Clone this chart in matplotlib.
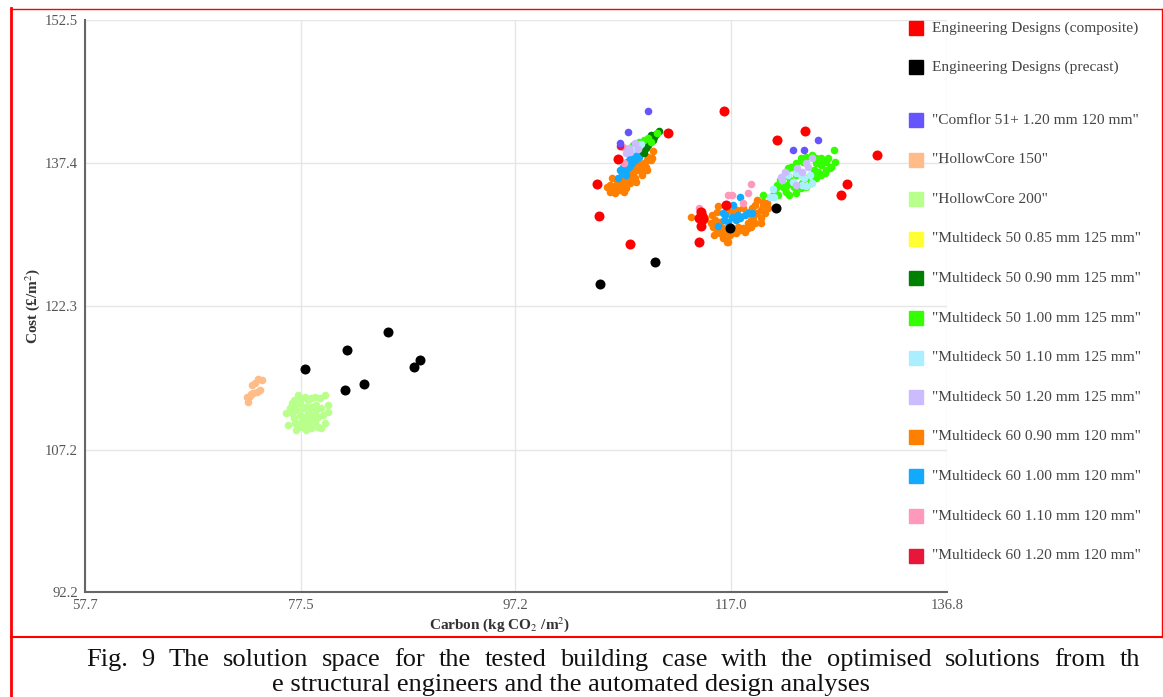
import matplotlib
matplotlib.use("Agg")
import matplotlib.pyplot as plt
from matplotlib.lines import Line2D
from matplotlib.patches import Rectangle

plt.rcParams["font.family"] = ["Liberation Serif", "DejaVu Serif"]
plt.rcParams["mathtext.fontset"] = "stix"

# axis ticks
x_ticks = [57.7, 77.5, 97.2, 117.0, 136.8]
y_ticks = [92.2, 107.2, 122.3, 137.4, 152.5]

# (carbon, cost)
eng_composite = [(104.7, 135.2), (104.9, 131.8), (106.6, 137.85), (107.7, 128.9), (111.2, 140.6),
                 (116.3, 142.9), (123.8, 140.8), (121.2, 139.85), (130.4, 138.3), (127.6, 135.2),
                 (127.1, 134.05), (116.5, 133.0), (114.2, 132.3), (114.3, 131.8), (114.0, 131.6),
                 (114.45, 131.5), (114.2, 130.8), (114.0, 129.1)]
eng_precast = [(77.9, 115.7), (81.7, 117.7), (85.5, 119.6), (81.6, 113.5), (83.3, 114.1),
               (87.9, 115.9), (88.4, 116.7), (105.0, 124.7), (110.0, 127.0), (116.9, 130.6),
               (121.1, 132.7)]
comflor = [(109.4, 142.9), (107.5, 140.7), (106.8, 139.5), (125.0, 139.85), (122.7, 138.8),
           (123.7, 138.8)]
hollowcore_150 = [(73.6, 114.65), (73.3, 114.2), (73.0, 114.0), (73.8, 113.5), (73.5, 113.3),
                  (73.15, 113.2), (72.8, 112.9), (72.6, 112.8), (72.7, 112.2), (72.9, 113.1),
                  (73.95, 114.55)]
hollowcore_200 = [(76.85, 112.4), (76.7, 112.1), (77.0, 111.9), (76.5, 111.6), (77.1, 111.4),
                  (77.45, 112.1), (77.5, 112.65), (77.25, 113.0), (77.9, 112.8), (78.2, 112.4),
                  (78.45, 112.65), (78.8, 112.8), (79.3, 112.65), (79.75, 113.0), (80.0, 111.9),
                  (79.4, 111.6), (78.9, 111.9), (78.45, 111.7), (78.2, 111.2), (77.9, 110.65),
                  (77.5, 110.1), (77.25, 109.6), (77.1, 109.3), (77.7, 109.6), (78.2, 110.0),
                  (78.45, 109.5), (78.8, 110.1), (79.1, 109.6), (79.4, 109.5), (79.75, 110.0),
                  (76.3, 109.8), (76.1, 111.1), (76.85, 110.5), (77.45, 110.9), (78.0, 111.7),
                  (78.6, 110.9), (79.1, 110.65), (79.5, 110.9), (80.0, 111.2), (78.9, 111.4),
                  (77.7, 111.6), (78.4, 110.5), (78.0, 109.3), (77.0, 110.0), (76.7, 111.1)]
md50_085 = []
md50_090 = [(110.1, 140.5), (109.6, 140.4), (109.8, 139.85), (109.3, 139.5), (109.2, 139.0),
            (109.4, 139.3), (109.0, 138.5), (109.9, 140.2), (108.9, 138.6), (110.35, 140.8)]
md50_100 = [(110.2, 140.6), (109.4, 140.1), (108.5, 139.6), (108.0, 139.3), (109.0, 139.85),
            (107.9, 139.1), (109.6, 139.6),
            (126.4, 138.8), (125.9, 138.0), (126.55, 137.5), (126.1, 136.9), (125.6, 136.4),
            (125.2, 137.2), (124.8, 138.0), (124.4, 138.3), (123.9, 138.1), (123.6, 137.5),
            (123.4, 138.0), (122.9, 137.4), (122.5, 137.0), (122.2, 136.9), (122.05, 136.4),
            (121.75, 136.0), (121.5, 135.6), (121.1, 134.8), (121.3, 134.05), (122.05, 134.4),
            (122.3, 134.05), (122.9, 134.3), (123.4, 134.8), (123.9, 134.9), (124.3, 135.3),
            (124.8, 135.8), (125.25, 136.2), (125.7, 136.7), (126.2, 137.0), (124.6, 136.7),
            (125.0, 136.5), (124.8, 137.4), (125.25, 138.0), (125.7, 137.5), (124.4, 136.2),
            (123.9, 135.8), (123.5, 135.3), (122.8, 134.9), (122.1, 135.1), (121.75, 134.9),
            (122.4, 135.6), (122.9, 136.2),
            (119.95, 134.05), (120.8, 134.05), (121.2, 135.1)]
md50_110 = [(108.7, 139.4), (108.0, 138.9), (120.8, 134.7), (120.6, 133.8), (120.9, 133.8),
            (122.9, 136.4), (123.4, 136.2), (123.7, 135.8), (124.2, 136.2), (124.4, 135.3),
            (123.5, 135.1), (123.9, 135.0), (122.7, 135.4), (122.2, 136.2)]
md50_120 = [(108.2, 139.5), (107.75, 138.6), (107.6, 139.0), (108.4, 138.9), (107.3, 138.5),
            (124.4, 138.0), (123.9, 137.4), (124.0, 137.0), (121.9, 136.5), (121.6, 136.0),
            (121.7, 135.6), (122.9, 135.1), (123.5, 136.5), (123.0, 136.9)]
md60_090 = [(106.2, 134.6), (106.4, 135.1), (106.1, 135.8), (106.65, 134.9), (106.8, 135.4),
            (107.1, 135.1), (107.45, 135.6), (107.75, 136.0), (108.0, 136.4), (108.4, 136.7),
            (108.7, 137.0), (109.0, 137.4), (109.3, 137.75), (109.4, 138.1), (108.9, 136.7),
            (108.2, 135.8), (107.75, 135.3), (107.3, 134.8), (106.8, 134.6), (108.5, 137.4),
            (107.9, 136.7), (107.6, 136.4), (107.1, 136.0), (106.5, 135.6), (109.6, 137.75),
            (109.2, 137.0), (108.0, 137.0), (107.0, 135.6), (105.9, 135.1), (109.8, 138.7),
            (105.9, 134.4), (105.6, 134.9), (106.3, 134.3), (107.2, 134.4), (108.3, 135.4),
            (108.8, 136.2), (109.3, 136.7), (109.7, 138.0),
            (113.3, 131.7), (115.8, 132.9), (115.7, 132.3), (116.0, 131.2), (115.8, 130.7),
            (115.7, 130.4), (116.0, 130.0), (116.2, 129.5), (116.6, 129.1), (117.65, 130.7),
            (118.1, 130.6), (118.5, 131.1), (118.8, 131.4), (119.0, 131.7), (119.4, 132.2),
            (119.7, 132.5), (119.95, 132.8), (120.3, 133.2), (119.2, 133.0), (118.9, 132.7),
            (118.6, 132.3), (118.05, 132.7), (119.4, 133.5), (119.9, 133.3), (120.4, 132.7),
            (120.1, 132.2), (119.7, 131.6), (119.2, 131.1), (118.8, 130.7), (118.3, 130.2),
            (117.8, 130.4), (117.4, 130.0), (116.9, 129.8), (116.45, 130.2), (116.2, 130.6),
            (115.5, 131.4), (115.3, 130.7), (115.1, 131.1), (117.1, 132.3), (116.6, 132.5),
            (117.5, 132.5), (116.7, 129.1), (115.2, 131.9), (114.6, 131.6),
            (115.4, 129.8), (116.6, 129.3), (118.5, 130.6), (119.95, 133.0), (119.7, 131.1)]
md60_100 = [(106.65, 135.8), (107.0, 136.4), (107.3, 136.7), (107.6, 137.0), (107.9, 137.4),
            (108.2, 137.75), (108.5, 138.1), (108.7, 138.5), (107.45, 137.5), (107.1, 137.0),
            (107.75, 138.0), (108.0, 138.3), (106.8, 136.7), (108.4, 138.6), (107.3, 136.2),
            (117.8, 133.8), (117.2, 133.0), (116.2, 132.2), (116.45, 131.9), (116.7, 131.2),
            (117.4, 131.4), (117.8, 131.6), (118.3, 131.9), (118.5, 132.2), (117.6, 131.9),
            (117.1, 131.7), (116.3, 131.4), (118.9, 132.2), (115.8, 130.8)]
md60_110 = [(107.1, 139.1), (107.2, 137.4), (109.0, 139.5), (114.0, 132.7), (116.7, 134.05),
            (117.1, 134.05), (118.8, 135.2), (118.5, 134.3), (118.1, 133.2)]
md60_120 = [(106.8, 139.2), (114.1, 132.4)]

labels = ["Engineering Designs (composite)", "Engineering Designs (precast)",
          '"Comflor 51+ 1.20 mm 120 mm"', '"HollowCore 150"', '"HollowCore 200"',
          '"Multideck 50 0.85 mm 125 mm"', '"Multideck 50 0.90 mm 125 mm"',
          '"Multideck 50 1.00 mm 125 mm"', '"Multideck 50 1.10 mm 125 mm"',
          '"Multideck 50 1.20 mm 125 mm"', '"Multideck 60 0.90 mm 120 mm"',
          '"Multideck 60 1.00 mm 120 mm"', '"Multideck 60 1.10 mm 120 mm"',
          '"Multideck 60 1.20 mm 120 mm"']
colors = ["#ff0000", "#000000", "#6655ff", "#ffbb88", "#b8ff8c", "#ffff33", "#008000",
          "#33ff00", "#aaeeff", "#ccbbff", "#ff7f00", "#11aaff", "#ff99bb", "#e8173a"]
series = [eng_composite, eng_precast, comflor, hollowcore_150, hollowcore_200, md50_085,
          md50_090, md50_100, md50_110, md50_120, md60_090, md60_100, md60_110, md60_120]

W, H = 1163, 697


def fx(px):
    return px / W


def fy(py):
    return 1 - py / H


fig = plt.figure(figsize=(W / 100, H / 100), dpi=100)
ax = fig.add_axes([fx(85), fy(592), (947 - 85) / W, (592 - 20) / H])

# draw order: small solution dots first, engineer designs on top
order = [3, 4, 10, 11, 12, 13, 6, 7, 8, 9, 5, 2, 0, 1]
for i in order:
    pts = series[i]
    if not pts:
        continue
    xs = [p[0] for p in pts]
    ys = [p[1] for p in pts]
    size = 52 if i < 2 else 30
    ax.scatter(xs, ys, s=size, color=colors[i], linewidths=0, zorder=3)

ax.set_xlim(x_ticks[0], x_ticks[-1])
ax.set_ylim(y_ticks[0], y_ticks[-1])
ax.set_xticks(x_ticks)
ax.set_xticklabels([f"{v:.1f}" for v in x_ticks])
ax.set_yticks(y_ticks)
ax.set_yticklabels([f"{v:.1f}" for v in y_ticks])
ax.grid(color="#e6e6e6", lw=1, zorder=0)
ax.tick_params(length=0, labelsize=10.5, labelcolor="#555555", pad=5)
for s in ["top", "right"]:
    ax.spines[s].set_visible(False)
for s in ["left", "bottom"]:
    ax.spines[s].set_color("#666666")
    ax.spines[s].set_linewidth(1.5)

fig.text(fx(33), fy(306), "Cost (£/m$^2$)", rotation=90, ha="center", va="center",
         fontsize=11, fontweight="bold", color="#333333")
fig.text(fx(500), fy(625), "Carbon (kg CO$_2$ /m$^2$)", ha="center", va="center",
         fontsize=11, fontweight="bold", color="#333333")

# legend, drawn by hand to keep the gap after the two engineer entries
rows = [28, 67] + [120 + 39.6 * k for k in range(12)]
for lab, c, r in zip(labels, colors, rows):
    fig.add_artist(Rectangle((fx(909), fy(r + 7)), 14 / W, 14 / H, color=c,
                             transform=fig.transFigure))
    fig.text(fx(932), fy(r), lab, va="center", ha="left", fontsize=11.1, color="#444444")

# red frame around figure and caption
fig.add_artist(Line2D([fx(11), fx(11)], [fy(8), fy(697)], color="red", lw=2,
                      transform=fig.transFigure))
fig.add_artist(Line2D([fx(11), fx(1163)], [fy(9), fy(9)], color="red", lw=1,
                      transform=fig.transFigure))
fig.add_artist(Line2D([fx(1162), fx(1162)], [fy(9), fy(637)], color="red", lw=1,
                      transform=fig.transFigure))
fig.add_artist(Line2D([fx(11), fx(1163)], [fy(637), fy(637)], color="red", lw=1.5,
                      transform=fig.transFigure))

# caption, first line justified
cap1 = "Fig. 9 The solution space for the tested building case with the optimised solutions from th"
cap2 = "e structural engineers and the automated design analyses"
renderer = fig.canvas.get_renderer()
words = cap1.split()
widths = []
for w in words:
    t = fig.text(0, 0, w, fontsize=19)
    widths.append(t.get_window_extent(renderer).width)
    t.remove()
x0, x1 = 86, 1140
gap = (x1 - x0 - sum(widths)) / (len(words) - 1)
x = x0
for w, wd in zip(words, widths):
    fig.text(fx(x), fy(666), w, fontsize=19, va="baseline", ha="left", color="#111111")
    x += wd + gap
fig.text(fx(571), fy(691), cap2, fontsize=19, va="baseline", ha="center", color="#111111")

fig.savefig("out.png", dpi=100)
